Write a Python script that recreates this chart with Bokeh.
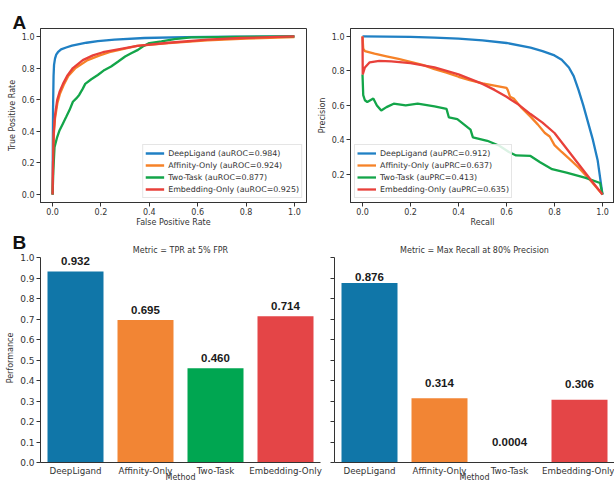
from bokeh.plotting import figure
from bokeh.layouts import column, row
from bokeh.models import (Range1d, FactorRange, FixedTicker, PrintfTickFormatter, Title,
                          CustomJSTickFormatter)
from bokeh.core.properties import value
from bokeh.embed import file_html
from bokeh.resources import INLINE

# ---------------- data ----------------
methods = ["DeepLigand", "Affinity-Only", "Two-Task", "Embedding-Only"]
roc_auc = [0.984, 0.924, 0.877, 0.925]
prc_auc = [0.912, 0.637, 0.413, 0.635]

# ROC curves (FPR, TPR)
roc_deep_fpr = [0, 0.001, 0.002, 0.004, 0.006, 0.01, 0.015, 0.022, 0.035, 0.056, 0.08, 0.105, 0.14, 0.187, 0.256, 0.38, 0.55, 0.75, 1.0]
roc_deep_tpr = [0, 0.3, 0.55, 0.75, 0.82, 0.86, 0.885, 0.9, 0.918, 0.93, 0.942, 0.95, 0.96, 0.97, 0.98, 0.99, 0.995, 0.998, 1.0]
roc_aff_fpr = [0, 0.002, 0.005, 0.01, 0.02, 0.03, 0.048, 0.065, 0.095, 0.145, 0.195, 0.235, 0.29, 0.35, 0.48, 0.64, 0.8, 1.0]
roc_aff_tpr = [0, 0.2, 0.38, 0.48, 0.58, 0.635, 0.7, 0.75, 0.8, 0.85, 0.88, 0.9, 0.92, 0.94, 0.958, 0.975, 0.986, 0.995]
roc_two_fpr = [0, 0.003, 0.008, 0.019, 0.029, 0.043, 0.056, 0.07, 0.084, 0.098, 0.11, 0.125, 0.135, 0.16, 0.187, 0.215, 0.242, 0.27, 0.3, 0.325, 0.353, 0.373, 0.4, 0.45, 0.504, 0.573, 0.68, 1.0]
roc_two_tpr = [0, 0.15, 0.3, 0.364, 0.407, 0.45, 0.49, 0.534, 0.587, 0.608, 0.63, 0.67, 0.7, 0.729, 0.756, 0.788, 0.81, 0.84, 0.873, 0.894, 0.915, 0.936, 0.958, 0.968, 0.983, 0.994, 0.996, 1.0]
roc_emb_fpr = [0, 0.002, 0.005, 0.01, 0.019, 0.029, 0.043, 0.06, 0.084, 0.125, 0.167, 0.208, 0.277, 0.35, 0.48, 0.64, 0.78, 1.0]
roc_emb_tpr = [0, 0.2, 0.4, 0.5, 0.597, 0.65, 0.7, 0.75, 0.8, 0.85, 0.88, 0.9, 0.92, 0.94, 0.96, 0.98, 0.99, 1.0]

# PR curves (Recall, Precision)
pr_deep_rec = [0, 0.1, 0.2, 0.3, 0.4, 0.5, 0.6, 0.7, 0.75, 0.8, 0.83, 0.86, 0.88, 0.9, 0.92, 0.94, 0.96, 0.98, 1.0]
pr_deep_prec = [1.0, 0.999, 0.997, 0.993, 0.987, 0.977, 0.962, 0.935, 0.915, 0.89, 0.865, 0.82, 0.77, 0.69, 0.6, 0.5, 0.4, 0.28, 0.083]
pr_aff_rec = [0, 0.003, 0.01, 0.05, 0.1, 0.15, 0.2, 0.25, 0.3, 0.35, 0.4, 0.45, 0.5, 0.55, 0.6, 0.605, 0.615, 0.63, 0.66, 0.7, 0.73, 0.76, 0.78, 0.8, 0.83, 0.87, 0.9, 0.95, 1.0]
pr_aff_prec = [1.0, 0.93, 0.915, 0.9, 0.885, 0.87, 0.853, 0.835, 0.81, 0.79, 0.766, 0.745, 0.728, 0.715, 0.702, 0.69, 0.65, 0.64, 0.59, 0.535, 0.49, 0.44, 0.42, 0.37, 0.33, 0.28, 0.24, 0.165, 0.083]
pr_two_rec = [0, 0.003, 0.01, 0.02, 0.045, 0.06, 0.078, 0.1, 0.13, 0.18, 0.23, 0.3, 0.35, 0.36, 0.395, 0.45, 0.46, 0.52, 0.57, 0.61, 0.64, 0.7, 0.74, 0.79, 0.85, 0.93, 0.99, 1.0]
pr_two_prec = [0.78, 0.66, 0.63, 0.62, 0.64, 0.6, 0.57, 0.59, 0.61, 0.6, 0.61, 0.595, 0.58, 0.53, 0.52, 0.46, 0.415, 0.395, 0.366, 0.33, 0.31, 0.307, 0.27, 0.23, 0.21, 0.18, 0.15, 0.083]
pr_emb_rec = [0, 0.001, 0.01, 0.03, 0.07, 0.12, 0.2, 0.3, 0.4, 0.5, 0.55, 0.6, 0.65, 0.7, 0.75, 0.8, 0.85, 0.9, 0.95, 1.0]
pr_emb_prec = [1.0, 0.78, 0.82, 0.85, 0.858, 0.855, 0.845, 0.82, 0.78, 0.725, 0.69, 0.65, 0.605, 0.55, 0.5, 0.44, 0.35, 0.26, 0.17, 0.083]

# Bar metrics
tpr_at_5fpr = [0.932, 0.695, 0.460, 0.714]
recall_at_80prec = [0.876, 0.314, 0.0004, 0.306]

unit_ticks = [0.0, 0.2, 0.4, 0.6, 0.8, 1.0]
prec_ticks = [0.2, 0.4, 0.6, 0.8, 1.0]
perf_ticks = [0.0, 0.1, 0.2, 0.3, 0.4, 0.5, 0.6, 0.7, 0.8, 0.9, 1.0]

# ---------------- style ----------------
line_colors = ["#2080c4", "#f68228", "#13a549", "#e8403a"]
bar_colors = ["#1076a8", "#f28534", "#00a651", "#e44547"]
TXT = "#333333"
FONT = "DejaVu Sans"


def style_axis(ax, fs="8px", tick_out=4):
    ax.axis_line_color = TXT
    ax.major_tick_line_color = TXT
    ax.minor_tick_line_color = None
    ax.major_tick_out = tick_out
    ax.major_tick_in = 0
    ax.major_label_text_font = FONT
    ax.major_label_text_font_size = fs
    ax.major_label_text_color = TXT
    ax.major_label_standoff = 2
    ax.axis_label_text_font = FONT
    ax.axis_label_text_font_size = "8px"
    ax.axis_label_text_font_style = "normal"
    ax.axis_label_text_color = TXT
    ax.axis_label_standoff = 2


def panel_letter(p, letter, standoff):
    p.add_layout(Title(text=letter, align="left", offset=-28, standoff=standoff,
                       text_font="Liberation Sans", text_font_style="bold",
                       text_font_size="19px", text_color="#111111"), "above")


def curve_fig(width, left, right, y_range, xlabel, ylabel, yticks):
    p = figure(width=width, height=231, x_range=Range1d(-0.05, 1.05), y_range=Range1d(*y_range),
               output_backend="svg", toolbar_location=None,
               min_border_left=left, min_border_right=right, min_border_top=28, min_border_bottom=29)
    p.grid.visible = False
    p.outline_line_color = TXT
    p.outline_line_width = 1
    style_axis(p.xaxis[0])
    style_axis(p.yaxis[0])
    p.xaxis[0].major_label_standoff = 1
    p.xaxis[0].axis_label_standoff = 0
    p.xaxis[0].axis_label = xlabel
    p.yaxis[0].axis_label = ylabel
    p.xaxis[0].ticker = FixedTicker(ticks=unit_ticks)
    p.yaxis[0].ticker = FixedTicker(ticks=yticks)
    p.xaxis[0].formatter = PrintfTickFormatter(format="%.1f")
    p.yaxis[0].formatter = PrintfTickFormatter(format="%.1f")
    return p


def style_legend(p, loc):
    lg = p.legend[0]
    lg.location = loc
    lg.margin = 4
    lg.padding = 2
    lg.spacing = 0
    lg.label_height = 12
    lg.glyph_height = 12
    lg.glyph_width = 19
    lg.label_standoff = 4
    lg.label_text_font = FONT
    lg.label_text_font_size = "7.9px"
    lg.label_text_color = TXT
    lg.border_line_color = "#cccccc"
    lg.border_line_width = 1
    lg.background_fill_alpha = 0.85


# ---------------- Panel A: ROC ----------------
roc = curve_fig(314, 40, 8, (-0.05, 1.05), "False Positive Rate", "True Positive Rate", unit_ticks)
roc_x = [roc_deep_fpr, roc_aff_fpr, roc_two_fpr, roc_emb_fpr]
roc_y = [roc_deep_tpr, roc_aff_tpr, roc_two_tpr, roc_emb_tpr]
for m, xs, ys, c, a in zip(methods, roc_x, roc_y, line_colors, roc_auc):
    roc.line(xs, ys, line_color=c, line_width=2.3, legend_label=f"{m} (auROC={a:.3f})")
style_legend(roc, "bottom_right")
panel_letter(roc, "A", -8)

# ---------------- Panel A: PR ----------------
pr = curve_fig(300, 35, 0, (0.037, 1.046), "Recall", "Precision", prec_ticks)
pr_x = [pr_deep_rec, pr_aff_rec, pr_two_rec, pr_emb_rec]
pr_y = [pr_deep_prec, pr_aff_prec, pr_two_prec, pr_emb_prec]
for m, xs, ys, c, a in zip(methods, pr_x, pr_y, line_colors, prc_auc):
    pr.line(xs, ys, line_color=c, line_width=2.3, legend_label=f"{m} (auPRC={a:.3f})")
style_legend(pr, "bottom_left")


# ---------------- Panel B: bars ----------------
def fmt(v):
    return f"{v:.3f}" if v >= 0.001 else f"{v:.4f}"


def bar_fig(width, left, right, title, vals, show_labels, offset_fn):
    p = figure(width=width, height=250, x_range=FactorRange(factors=methods, range_padding=0),
               y_range=Range1d(0, 1.02), output_backend="svg", toolbar_location=None,
               min_border_left=left, min_border_right=right,
               min_border_top=22, min_border_bottom=19)
    p.grid.visible = False
    p.outline_line_color = None
    p.add_layout(Title(text=title, align="center", standoff=-3, text_font=FONT,
                       text_font_size="8px", text_font_style="normal", text_color=TXT), "above")
    p.vbar(x=methods, top=vals, width=0.8, fill_color=bar_colors, line_color=None)
    label_y = [v + offset_fn(v) for v in vals]
    p.text(x=methods, y=label_y, text=[fmt(v) for v in vals], text_align="center",
           text_baseline="middle", text_font=value("Liberation Sans"), text_font_style="bold",
           text_font_size=value("11.5px"), text_color="#1a1a1a")
    style_axis(p.xaxis[0], fs="8.7px", tick_out=0)
    p.xaxis[0].major_label_standoff = 3
    p.add_layout(Title(text="Method", align="center", vertical_align="top", standoff=-12,
                       text_font=FONT, text_font_size="8px", text_font_style="normal",
                       text_color=TXT), "below")
    style_axis(p.yaxis[0], fs="9px", tick_out=4)
    p.yaxis[0].ticker = FixedTicker(ticks=perf_ticks)
    p.yaxis[0].bounds = (0, 1)
    if show_labels:
        p.yaxis[0].formatter = PrintfTickFormatter(format="%.1f")
        p.yaxis[0].axis_label = "Performance"
    else:
        p.yaxis[0].formatter = CustomJSTickFormatter(code="return ''")
        p.yaxis[0].major_label_standoff = 0
    return p


bl = bar_fig(324, 40, 4, "Metric = TPR at 5% FPR", tpr_at_5fpr, True, lambda v: 0.05)
br = bar_fig(290, 10, 0, "Metric = Max Recall at 80% Precision", recall_at_80prec, False,
             lambda v: 0.1 - 0.08 * v)
panel_letter(bl, "B", -14)

layout = column(row(roc, pr), row(bl, br))
open("out.html", "w").write(file_html(layout, INLINE, "DeepLigand performance"))
